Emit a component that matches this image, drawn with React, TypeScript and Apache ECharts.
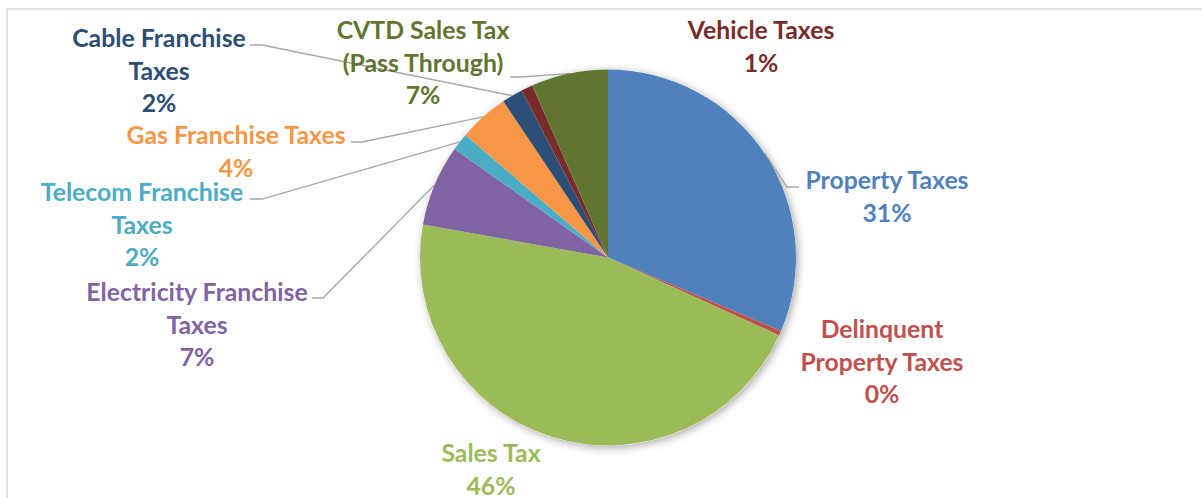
import React, { useEffect, useRef } from "react";
import * as echarts from "echarts";

const categories = [
  "Property Taxes",
  "Delinquent\nProperty Taxes",
  "Sales Tax",
  "Electricity Franchise\nTaxes",
  "Telecom Franchise\nTaxes",
  "Gas Franchise Taxes",
  "Cable Franchise\nTaxes",
  "Vehicle Taxes",
  "CVTD Sales Tax\n(Pass Through)",
];
const shares = [31.4, 0.4, 46.0, 7.0, 1.5, 4.3, 1.8, 1.0, 6.6];
const colors = ["#4F81BD", "#C0504D", "#9BBB59", "#8064A2", "#4BACC6", "#F79646", "#2C4D75", "#772C2A", "#5F7530"];

// label placement (page px): text block centre
const labelCenters: number[][] = [
  [887, 196], [882, 361], [491, 469], [197, 324], [142, 224], [236, 151], [159, 70], [761, 46], [423, 62],
];
// leader line: [end at text, elbow]; null = no leader
const leaderEnds: (number[][] | null)[] = [
  [[799, 187], [787, 187]],
  null,
  null,
  [[312, 298], [323, 298]],
  [[250, 199], [262, 199]],
  [[351, 142], [362, 142]],
  [[250, 45], [262, 45]],
  null,
  [[510, 77], [521, 77]],
];

export default function App() {
  const ref = useRef<HTMLDivElement>(null);
  useEffect(() => {
    if (!ref.current) return;
    const chart = echarts.init(ref.current, null, { renderer: "svg" });
    const data = categories.map((name, i) => ({
      name,
      value: shares[i],
      itemStyle: { color: colors[i] },
      label: { color: colors[i] },
      labelLine: { show: leaderEnds[i] !== null },
    }));
    chart.setOption({
      animation: false,
      backgroundColor: "#ffffff",
      graphic: [
        {
          type: "rect",
          shape: { x: 7, y: 9, width: 1400, height: 800 },
          style: { fill: "none", stroke: "#d9d9d9", lineWidth: 1.5 },
          silent: true,
        },
      ],
      series: [
        {
          type: "pie",
          z: 1,
          silent: true,
          center: [608, 257.5],
          radius: 188,
          data: [{ value: 1, name: "" }],
          itemStyle: {
            color: "#ffffff",
            shadowBlur: 8,
            shadowColor: "rgba(0,0,0,0.35)",
            shadowOffsetX: 2,
            shadowOffsetY: 2,
          },
          label: { show: false },
          labelLine: { show: false },
        },
        {
          type: "pie",
          z: 2,
          center: [608, 257.5],
          radius: 188,
          startAngle: 90,
          clockwise: true,
          avoidLabelOverlap: false,
          data,
          itemStyle: { borderWidth: 0 },
          label: {
            show: true,
            position: "outside",
            fontFamily: "Lato",
            fontWeight: "bold",
            fontSize: 24.8,
            lineHeight: 32.5,
            align: "center",
            formatter: (p: any) => `${p.name}\n${Math.round(p.percent)}%`,
          },
          labelLine: {
            show: true,
            lineStyle: { color: "#a6a6a6", width: 1.3 },
          },
          labelLayout: (params: any) => {
            const i = params.dataIndex;
            const c = labelCenters[i];
            const out: any = { x: c[0], y: c[1], align: "center", verticalAlign: "middle" };
            const le = leaderEnds[i];
            if (le && params.labelLinePoints) {
              const p0 = params.labelLinePoints[0];
              out.labelLinePoints = [[p0[0], p0[1]], le[1], le[0]];
            }
            return out;
          },
        },
      ],
    });
    return () => chart.dispose();
  }, []);
  return (
    <div
      ref={ref}
      style={{ position: "fixed", left: 0, top: 0, width: 1202, height: 498 }}
    />
  );
}
